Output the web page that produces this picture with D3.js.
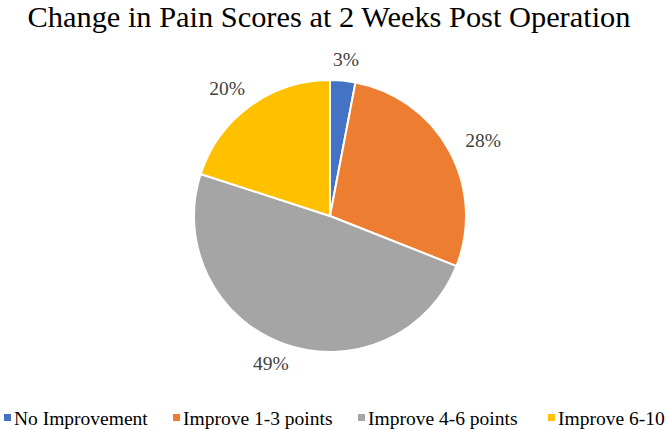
<!DOCTYPE html>
<html><head><meta charset="utf-8">
<script src="https://cdn.jsdelivr.net/npm/d3@7"></script>
<style>body{margin:0;background:#fff;} svg{display:block;}</style>
</head><body>
<svg id="c" width="667" height="430"></svg>
<script>
const categories = ["No Improvement","Improve 1-3 points","Improve 4-6 points","Improve 6-10"];
const values = [3,28,49,20];
const labels = ["3%","28%","49%","20%"];
const colors = ["#4472C4","#ED7D31","#A5A5A5","#FFC000"];

const svg = d3.select("#c");
const font = "'Liberation Serif','Times New Roman',serif";
svg.append("rect").attr("width",667).attr("height",430).attr("fill","#fff");

svg.append("text").attr("x",329).attr("y",27).attr("text-anchor","middle")
  .style("font-family",font).attr("font-size",30.4).attr("fill","#000")
  .text("Change in Pain Scores at 2 Weeks Post Operation");

const cx = 330, cy = 216, r = 136;
const g = svg.append("g").attr("transform",`translate(${cx},${cy})`);
const pie = d3.pie().sort(null).value(d=>d)(values);
const arc = d3.arc().innerRadius(0).outerRadius(r);
const color = d3.scaleOrdinal().domain(categories).range(colors);

g.selectAll("path").data(pie).enter().append("path")
  .attr("d",arc).attr("fill",(d,i)=>color(categories[i]))
  .attr("stroke","#fff").attr("stroke-width",2).attr("stroke-linejoin","round");

const R = 157;
g.selectAll("text.lbl").data(pie).enter().append("text")
  .attr("class","lbl")
  .attr("text-anchor","middle").style("font-family",font).attr("font-size",19.5)
  .attr("fill","#404040").text((d,i)=>labels[i])
  .attr("transform",function(d){
    const a=(d.startAngle+d.endAngle)/2;
    const w=this.getComputedTextLength();
    const x=(R+w/2)*Math.sin(a), y=-R*Math.cos(a)+6.5;
    return `translate(${x},${y})`;
  });

const legendX = [4,173,358,548];
const lg = svg.append("g");
categories.forEach((c,i)=>{
  lg.append("rect").attr("x",legendX[i]).attr("y",414).attr("width",7).attr("height",7).attr("fill",color(c));
  lg.append("text").attr("x",legendX[i]+10).attr("y",425).style("font-family",font)
    .attr("font-size",19.5).attr("fill","#000").text(c);
});
</script>
</body></html>
